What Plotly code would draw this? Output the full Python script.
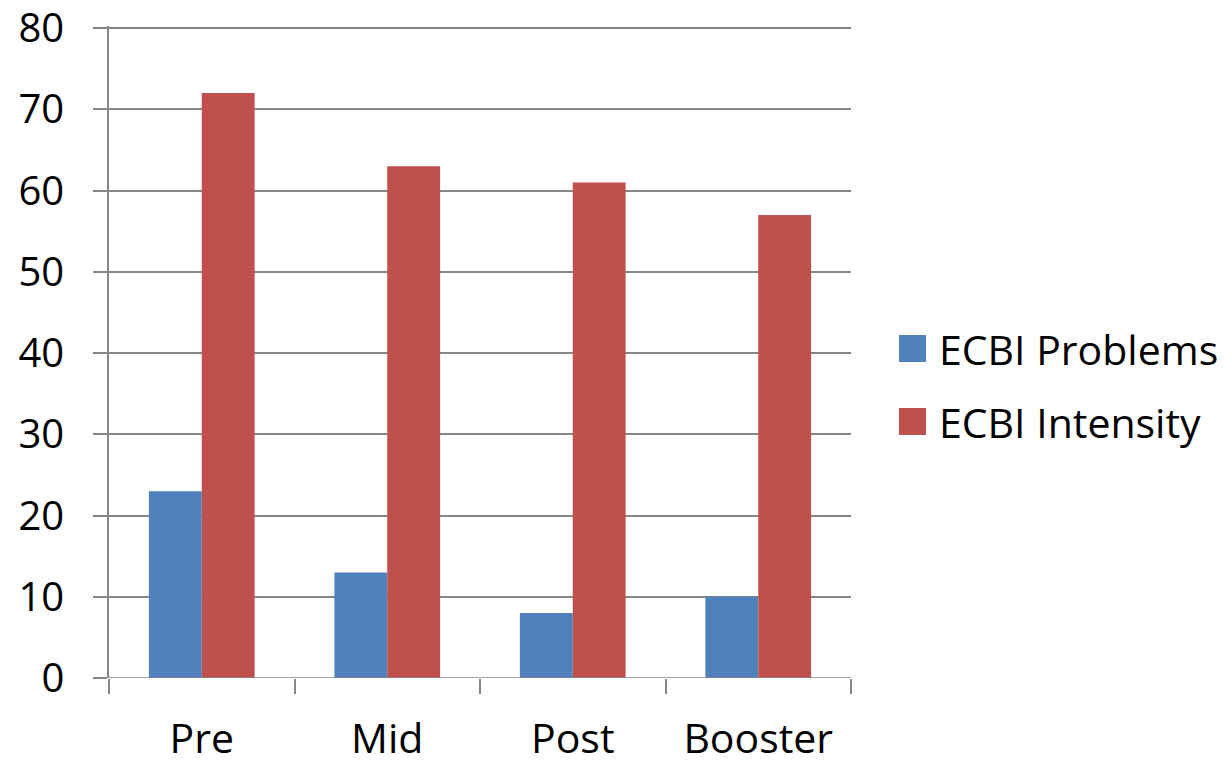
import plotly.graph_objects as go

categories = ["Pre", "Mid", "Post", "Booster"]
problems = [23, 13, 8, 10]
intensity = [72, 63, 61, 57]
series_names = ["ECBI Problems", "ECBI Intensity"]
colors = ["#4F81BD", "#C0504D"]
y_ticks = [0, 10, 20, 30, 40, 50, 60, 70, 80]

FONT = "Open Sans"
GRID = "#868686"

fig = go.Figure()
for name, vals, col in zip(series_names, [problems, intensity], colors):
    fig.add_trace(go.Bar(x=categories, y=vals, name=name, marker_color=col,
                         marker_line_width=0, showlegend=False))

L, R, T, B = 109, 374, 26, 83
W, H = 1225, 761
pw, ph = W - L - R, H - T - B
ytop = 80 * ph / 650.0  # so that 80 sits 2px below the plot top

fig.update_layout(
    width=W, height=H,
    margin=dict(l=L, r=R, t=T, b=B, pad=0, autoexpand=False),
    paper_bgcolor="white", plot_bgcolor="white",
    barmode="group", bargap=0.43, bargroupgap=0,
    font=dict(family=FONT, size=40, color="black"),
    xaxis=dict(showline=False, showgrid=False, ticks="outside", tickson="boundaries",
               ticklen=15, tickwidth=1.5, tickcolor=GRID, automargin=False,
               ticklabeloverflow="allow",
               tickfont=dict(size=41, family=FONT), ticklabelstandoff=33),
    yaxis=dict(range=[0, ytop], tickvals=y_ticks, showgrid=True, gridcolor=GRID, gridwidth=1.5,
               showline=True, linecolor=GRID, linewidth=1.5, zeroline=False, automargin=False,
               ticklabeloverflow="allow",
               ticks="outside", ticklen=14, tickwidth=1.5, tickcolor=GRID,
               tickfont=dict(size=40, family=FONT), ticklabelstandoff=21),
)
# the x axis baseline
fig.add_shape(type="line", xref="paper", yref="y", x0=0, x1=1, y0=0, y1=0,
              line=dict(color=GRID, width=1.5))

# manual legend
sq = 27
leg_x_sq = 899
text_x = 937
centers = [348.5, 421.5]
for name, col, cy in zip(series_names, colors, centers):
    fig.add_shape(type="rect", xref="paper", yref="paper",
                  x0=(leg_x_sq - L) / pw, x1=(leg_x_sq + sq - L) / pw,
                  y0=(H - B - (cy + sq / 2)) / ph, y1=(H - B - (cy - sq / 2)) / ph,
                  fillcolor=col, line_width=0)
    fig.add_annotation(xref="paper", yref="paper", x=(text_x - L) / pw,
                       y=(H - B - cy) / ph, text=name, showarrow=False,
                       xanchor="left", yanchor="middle",
                       font=dict(size=41, family=FONT, color="black"))

fig.write_html("out.html")
